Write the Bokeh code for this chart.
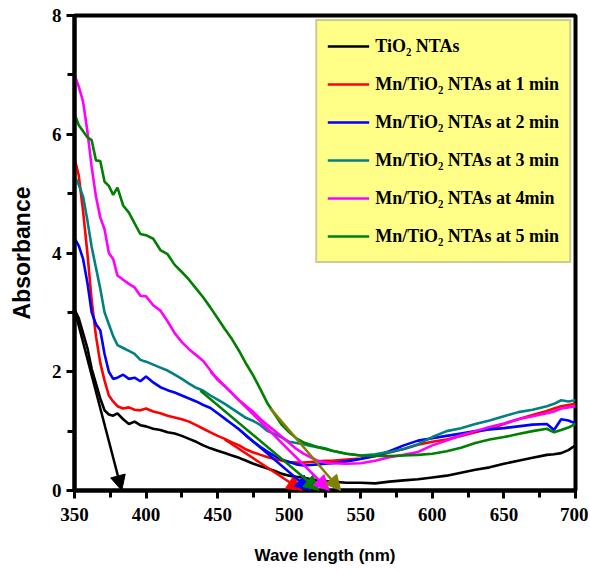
from bokeh.plotting import figure
from bokeh.models import Range1d, Legend, LegendItem, Arrow, NormalHead, FixedTicker
from bokeh.embed import file_html
from bokeh.resources import INLINE

# ---- data ----
wavelength = [350, 353, 356, 359, 362, 365, 368, 371, 374, 377, 380, 384, 388, 392, 396,
              400, 405, 410, 415, 420, 425, 430, 435, 440, 445, 450, 455, 460, 465, 470,
              475, 480, 485, 490, 495, 500, 505, 510, 515, 520, 525, 530, 540, 550, 560,
              570, 580, 590, 600, 610, 620, 630, 640, 650, 660, 670, 680, 685, 690, 695, 700]

tio2 = [3.05, 2.9, 2.65, 2.4, 2.05, 1.8, 1.55, 1.35, 1.28, 1.26, 1.3, 1.2, 1.12, 1.16, 1.1,
        1.08, 1.04, 1.02, 0.98, 0.96, 0.92, 0.87, 0.82, 0.76, 0.71, 0.67, 0.63, 0.59, 0.55, 0.50,
        0.45, 0.41, 0.37, 0.33, 0.28, 0.25, 0.23, 0.22, 0.19, 0.17, 0.16, 0.15, 0.13, 0.13, 0.12,
        0.15, 0.17, 0.19, 0.22, 0.25, 0.30, 0.35, 0.39, 0.45, 0.50, 0.55, 0.60, 0.61, 0.63, 0.68, 0.76]

mn_1min = [5.6, 5.3, 4.7, 4.0, 3.2, 2.6, 2.15, 1.85, 1.6, 1.5, 1.42, 1.38, 1.4, 1.36, 1.35,
           1.38, 1.33, 1.3, 1.26, 1.23, 1.2, 1.16, 1.1, 1.04, 0.98, 0.92, 0.87, 0.81, 0.76, 0.69,
           0.64, 0.6, 0.56, 0.53, 0.5, 0.48, 0.47, 0.47, 0.48, 0.49, 0.5, 0.5, 0.52, 0.54, 0.58,
           0.64, 0.7, 0.77, 0.82, 0.86, 0.92, 0.98, 1.04, 1.12, 1.2, 1.27, 1.34, 1.38, 1.42, 1.44, 1.46]

mn_2min = [4.25, 4.12, 3.9, 3.5, 3.0, 2.8, 2.7, 2.3, 2.0, 1.88, 1.9, 1.95, 1.88, 1.9, 1.84,
           1.92, 1.82, 1.74, 1.69, 1.65, 1.6, 1.55, 1.5, 1.44, 1.39, 1.3, 1.21, 1.12, 1.03, 0.92,
           0.82, 0.73, 0.65, 0.58, 0.52, 0.48, 0.44, 0.42, 0.43, 0.44, 0.45, 0.46, 0.49, 0.53, 0.58,
           0.66, 0.76, 0.84, 0.88, 0.92, 0.96, 1.0, 1.03, 1.05, 1.08, 1.11, 1.12, 1.02, 1.2, 1.18, 1.13]

mn_3min = [5.3, 5.15, 4.95, 4.55, 4.1, 3.75, 3.4, 3.0, 2.8, 2.6, 2.45, 2.4, 2.35, 2.3, 2.2,
           2.17, 2.12, 2.07, 2.02, 1.95, 1.88, 1.8, 1.73, 1.68, 1.6, 1.53, 1.46, 1.38, 1.3, 1.22,
           1.17, 1.1, 1.0, 0.95, 0.89, 0.82, 0.8, 0.78, 0.75, 0.73, 0.71, 0.67, 0.62, 0.59, 0.61,
           0.65, 0.7, 0.78, 0.9, 1.0, 1.05, 1.12, 1.18, 1.25, 1.32, 1.36, 1.42, 1.46, 1.52, 1.5, 1.52]

mn_4min = [7.0, 6.8, 6.55, 6.05, 5.45, 4.95, 4.6, 4.4, 4.0, 3.9, 3.62, 3.55, 3.48, 3.42, 3.28,
           3.27, 3.12, 3.03, 2.85, 2.65, 2.5, 2.38, 2.28, 2.18, 2.02, 1.86, 1.76, 1.64, 1.52, 1.42,
           1.32, 1.2, 1.1, 1.0, 0.9, 0.8, 0.7, 0.62, 0.56, 0.5, 0.47, 0.46, 0.45, 0.46, 0.5,
           0.56, 0.6, 0.65, 0.76, 0.84, 0.93, 1.0, 1.07, 1.13, 1.2, 1.25, 1.3, 1.33, 1.38, 1.4, 1.42]

mn_5min = [6.35, 6.15, 6.05, 5.95, 5.9, 5.56, 5.55, 5.2, 5.13, 4.98, 5.1, 4.8, 4.68, 4.5, 4.32,
           4.3, 4.24, 4.05, 3.98, 3.8, 3.68, 3.55, 3.4, 3.25, 3.08, 2.9, 2.72, 2.55, 2.35, 2.13,
           1.93, 1.7, 1.46, 1.28, 1.1, 0.98, 0.88, 0.81, 0.77, 0.73, 0.7, 0.67, 0.62, 0.59, 0.58,
           0.58, 0.59, 0.6, 0.62, 0.66, 0.72, 0.8, 0.86, 0.9, 0.95, 1.0, 1.04, 0.98, 1.02, 1.06, 1.12]

series_labels = ["TiO\u2082 NTAs", "Mn/TiO\u2082 NTAs at 1 min", "Mn/TiO\u2082 NTAs at 2 min",
                 "Mn/TiO\u2082 NTAs at 3 min", "Mn/TiO\u2082 NTAs at 4min", "Mn/TiO\u2082 NTAs at 5 min"]
series_colors = ["#000000", "#FF0000", "#0000FF", "#008080", "#FF00FF", "#008000"]

# tangent (band-edge) arrows
arrow_x0 = [350, 455, 465, 438, 445, 487]
arrow_y0 = [3.05, 0.86, 1.03, 1.68, 2.0, 1.38]
arrow_x1 = [383, 509, 515, 521, 528, 536]
arrow_y1 = [0, 0, 0, 0, 0, 0]
arrow_colors = ["#000000", "#FF0000", "#0000FF", "#008000", "#FF00FF", "#808000"]

x_ticks = [350, 400, 450, 500, 550, 600, 650, 700]
x_minor = [375, 425, 475, 525, 575, 625, 675]
y_ticks = [0, 2, 4, 6, 8]
y_minor = [1, 3, 5, 7]

# ---- figure ----
p = figure(width=588, height=568, output_backend="svg", toolbar_location=None,
           x_range=Range1d(350, 700), y_range=Range1d(0, 8),
           min_border_left=74, min_border_right=13, min_border_top=15, min_border_bottom=78)
p.frame_width = 501
p.frame_height = 475
p.background_fill_color = "white"
p.border_fill_color = "white"
p.grid.visible = False
p.outline_line_color = "black"
p.outline_line_width = 4

series = [tio2, mn_1min, mn_2min, mn_3min, mn_4min, mn_5min]
items = []
for ys, col, lab in zip(series, series_colors, series_labels):
    r = p.line(wavelength, ys, line_color=col, line_width=2.6)
    items.append(LegendItem(label=lab, renderers=[r]))

for x0, y0, x1, y1, c in zip(arrow_x0, arrow_y0, arrow_x1, arrow_y1, arrow_colors):
    p.add_layout(Arrow(x_start=x0, y_start=y0, x_end=x1, y_end=y1,
                       line_color=c, line_width=2.5,
                       end=NormalHead(size=15, fill_color=c, line_color=c, line_width=1)))

# axes
p.xaxis.ticker = FixedTicker(ticks=x_ticks, minor_ticks=x_minor)
p.yaxis.ticker = FixedTicker(ticks=y_ticks, minor_ticks=y_minor)
for ax in (p.xaxis[0], p.yaxis[0]):
    ax.axis_line_width = 4
    ax.axis_line_color = "black"
    ax.major_tick_line_width = 3
    ax.minor_tick_line_width = 3
    ax.major_tick_in = 0
    ax.minor_tick_in = 0
    ax.major_tick_out = 8
    ax.minor_tick_out = 7
    ax.major_label_text_font = "Liberation Serif"
    ax.major_label_text_font_style = "bold"
    ax.major_label_text_font_size = "19px"
    ax.major_label_text_color = "black"
    ax.axis_label_text_font = "Liberation Sans"
    ax.axis_label_text_font_style = "bold"
    ax.axis_label_text_color = "black"
p.xaxis.axis_label = "Wave length (nm)"
p.xaxis.axis_label_text_font_size = "17px"
p.xaxis.major_label_standoff = 9
p.xaxis.axis_label_standoff = 22
p.yaxis.axis_label = "Absorbance"
p.yaxis.axis_label_text_font_size = "23px"
p.yaxis.major_label_standoff = 5
p.yaxis.axis_label_standoff = 14

legend = Legend(items=items, location="top_right", margin=4,
                background_fill_color="#FFFF88", background_fill_alpha=1.0,
                border_line_color="#999999", border_line_width=2,
                glyph_width=42, glyph_height=20, label_standoff=6,
                label_height=30, spacing=8, padding=10,
                label_text_font="Liberation Serif", label_text_font_style="bold",
                label_text_font_size="18px", label_text_color="black")
p.add_layout(legend)

open("out.html", "w").write(file_html(p, INLINE))
